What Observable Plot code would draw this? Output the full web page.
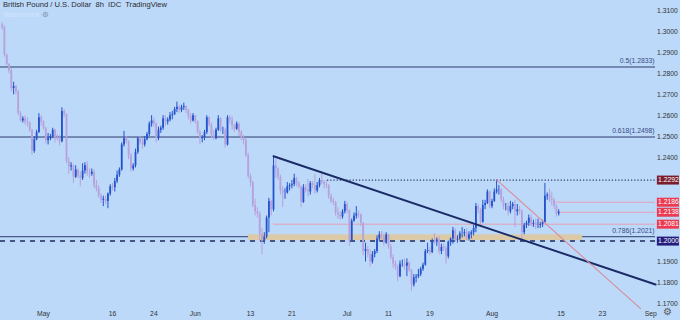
<!DOCTYPE html>
<html><head><meta charset="utf-8">
<script src="https://cdn.jsdelivr.net/npm/d3@7"></script>
<script src="https://cdn.jsdelivr.net/npm/@observablehq/plot@0.6"></script>
<style>
html,body{margin:0;padding:0;background:#bcd9fa;}
#wrap{position:relative;width:680px;height:320px;overflow:hidden;font-family:"Liberation Sans",Arial,sans-serif;}
#title{position:absolute;left:3px;top:0px;font-size:7.6px;color:#2c2c2c;white-space:pre;line-height:10px;}
#wm{position:absolute;left:3px;top:10px;font-size:7.6px;color:#d3e5fb;white-space:pre;line-height:10px;}
#wm span{color:#7f8ea8;}
#gear{position:absolute;left:663px;top:306px;font-size:10px;color:#555;line-height:12px;}
svg{display:block}
</style>
</head><body>
<div id="wrap">
<div id="chart"></div>
<div id="title">British Pound / U.S. Dollar  8h  IDC  TradingView</div>
<div id="wm">Watermark <span>⊛</span></div>
<div id="gear">⚙</div>
</div>
<script>
// 8h bars, Apr 22 – Aug 12 2022 (3 bars per trading day)
const firstOpen = 1.3035;
const closes = [
1.3020,1.2890,1.2845, 1.2815,1.2730,1.2740, 1.2715,1.2610,1.2575, 1.2585,1.2570,1.2565, 1.2530,1.2430,1.2485, 1.2520,1.2590,1.2570,
1.2540,1.2480,1.2490, 1.2500,1.2530,1.2495, 1.2490,1.2475,1.2620, 1.2605,1.2380,1.2355, 1.2360,1.2305,1.2340,
1.2310,1.2300,1.2335, 1.2360,1.2325,1.2320, 1.2330,1.2265,1.2250, 1.2215,1.2195,1.2200, 1.2190,1.2225,1.2260,
1.2255,1.2285,1.2315, 1.2340,1.2460,1.2490, 1.2475,1.2410,1.2345, 1.2360,1.2425,1.2490, 1.2470,1.2460,1.2485,
1.2510,1.2560,1.2575, 1.2560,1.2490,1.2530, 1.2540,1.2585,1.2570, 1.2580,1.2600,1.2605, 1.2630,1.2640,1.2625,
1.2640,1.2645,1.2625, 1.2595,1.2575,1.2600, 1.2570,1.2520,1.2490, 1.2495,1.2520,1.2590, 1.2555,1.2505,1.2490,
1.2530,1.2585,1.2530, 1.2530,1.2460,1.2590, 1.2580,1.2550,1.2535, 1.2560,1.2520,1.2490, 1.2480,1.2410,1.2310,
1.2280,1.2170,1.2140, 1.2130,1.2030,1.2000, 1.2020,1.2110,1.2190, 1.2150,1.2360,1.2345, 1.2305,1.2240,1.2230,
1.2230,1.2260,1.2265, 1.2270,1.2300,1.2275, 1.2260,1.2185,1.2255, 1.2245,1.2235,1.2275, 1.2265,1.2240,1.2265,
1.2290,1.2280,1.2270, 1.2265,1.2215,1.2190, 1.2185,1.2135,1.2125, 1.2115,1.2140,1.2175, 1.2145,1.2000,1.2095,
1.2120,1.2130,1.2125, 1.2085,1.1950,1.1960, 1.1935,1.1900,1.1935, 1.1950,1.2010,1.2030, 1.2020,1.1990,1.2030,
1.1970,1.1920,1.1890, 1.1875,1.1830,1.1890, 1.1890,1.1880,1.1895, 1.1860,1.1790,1.1825, 1.1830,1.1840,1.1865,
1.1885,1.1950,1.1955, 1.1945,1.2000,1.1995, 1.2005,1.1950,1.1970, 1.1965,1.1925,1.1995, 1.2010,1.2050,1.2005,
1.2010,1.2035,1.2035, 1.2040,1.2010,1.2030, 1.2040,1.2060,1.2165, 1.2150,1.2090,1.2170, 1.2180,1.2235,1.2165,
1.2190,1.2235,1.2245, 1.2245,1.2195,1.2165, 1.2165,1.2140,1.2165, 1.2175,1.2140,1.2150, 1.2140,1.2040,1.2075,
1.2085,1.2110,1.2080, 1.2085,1.2075,1.2075, 1.2080,1.2090,1.2215, 1.2220,1.2200,1.2195, 1.2165,1.2130,1.2138
];
const highs = [
1.3045,1.3030,1.2895, 1.2850,1.2825,1.2760, 1.2745,1.2720,1.2620, 1.2595,1.2600,1.2590, 1.2570,1.2535,1.2500, 1.2530,1.2610,1.2600,
1.2575,1.2545,1.2515, 1.2510,1.2540,1.2535, 1.2510,1.2505,1.2638, 1.2630,1.2610,1.2400, 1.2375,1.2365,1.2360,
1.2345,1.2330,1.2370, 1.2375,1.2380,1.2345, 1.2345,1.2340,1.2290, 1.2265,1.2225,1.2215, 1.2215,1.2230,1.2270,
1.2275,1.2300,1.2335, 1.2350,1.2470,1.2525, 1.2500,1.2480,1.2420, 1.2370,1.2440,1.2495, 1.2500,1.2490,1.2500,
1.2520,1.2570,1.2600, 1.2590,1.2565,1.2545, 1.2550,1.2600,1.2600, 1.2590,1.2615,1.2620, 1.2640,1.2665,1.2650,
1.2650,1.2660,1.2645, 1.2630,1.2610,1.2610, 1.2600,1.2575,1.2530, 1.2505,1.2530,1.2600, 1.2595,1.2565,1.2530,
1.2540,1.2600,1.2590, 1.2545,1.2540,1.2600, 1.2600,1.2595,1.2560, 1.2570,1.2565,1.2530, 1.2505,1.2490,1.2420,
1.2320,1.2285,1.2200, 1.2160,1.2140,1.2060, 1.2040,1.2120,1.2205, 1.2195,1.2406,1.2390, 1.2350,1.2315,1.2260,
1.2250,1.2280,1.2275, 1.2290,1.2320,1.2305, 1.2285,1.2265,1.2270, 1.2270,1.2295,1.2285, 1.2285,1.2320,1.2280,
1.2300,1.2330,1.2290, 1.2290,1.2270,1.2225, 1.2205,1.2190,1.2160, 1.2140,1.2150,1.2190, 1.2185,1.2150,1.2105,
1.2135,1.2165,1.2145, 1.2130,1.2090,1.1990, 1.1975,1.1960,1.1950, 1.1960,1.2025,1.2045, 1.2045,1.2035,1.2040,
1.2030,1.1985,1.1935, 1.1905,1.1885,1.1905, 1.1910,1.1915,1.1915, 1.1900,1.1865,1.1840, 1.1840,1.1865,1.1875,
1.1895,1.1960,1.1990, 1.1970,1.2010,1.2035, 1.2015,1.2020,1.1985, 1.1985,1.1975,1.2000, 1.2015,1.2065,1.2060,
1.2025,1.2045,1.2065, 1.2055,1.2060,1.2045, 1.2050,1.2075,1.2180, 1.2175,1.2155,1.2195, 1.2195,1.2245,1.2240,
1.2200,1.2250,1.2293, 1.2265,1.2250,1.2210, 1.2180,1.2180,1.2190, 1.2185,1.2195,1.2175, 1.2165,1.2150,1.2085,
1.2095,1.2125,1.2125, 1.2100,1.2105,1.2105, 1.2090,1.2100,1.2276, 1.2230,1.2250,1.2235, 1.2205,1.2175,1.2150
];
const lows = [
1.3010,1.2880,1.2838, 1.2800,1.2715,1.2700, 1.2700,1.2600,1.2570, 1.2565,1.2555,1.2545, 1.2520,1.2410,1.2420, 1.2480,1.2515,1.2550,
1.2530,1.2465,1.2460, 1.2480,1.2490,1.2470, 1.2480,1.2455,1.2470, 1.2590,1.2370,1.2320, 1.2335,1.2275,1.2300,
1.2300,1.2260,1.2290, 1.2320,1.2310,1.2300, 1.2310,1.2250,1.2235, 1.2205,1.2180,1.2165, 1.2175,1.2155,1.2215,
1.2240,1.2235,1.2275, 1.2305,1.2335,1.2450, 1.2465,1.2390,1.2330, 1.2335,1.2350,1.2415, 1.2460,1.2440,1.2450,
1.2480,1.2500,1.2545, 1.2545,1.2470,1.2480, 1.2515,1.2530,1.2550, 1.2555,1.2570,1.2580, 1.2600,1.2615,1.2610,
1.2615,1.2625,1.2610, 1.2580,1.2560,1.2570, 1.2560,1.2510,1.2460, 1.2470,1.2480,1.2510, 1.2545,1.2490,1.2480,
1.2485,1.2525,1.2520, 1.2510,1.2445,1.2455, 1.2560,1.2530,1.2520, 1.2530,1.2500,1.2480, 1.2460,1.2400,1.2300,
1.2260,1.2160,1.2120, 1.2110,1.2000,1.1934, 1.1985,1.2010,1.2040, 1.2120,1.2140,1.2300, 1.2290,1.2220,1.2160,
1.2200,1.2225,1.2240, 1.2250,1.2260,1.2260, 1.2250,1.2160,1.2180, 1.2230,1.2210,1.2220, 1.2250,1.2225,1.2230,
1.2255,1.2270,1.2250, 1.2250,1.2200,1.2180, 1.2170,1.2120,1.2105, 1.2100,1.2105,1.2130, 1.2130,1.1975,1.1995,
1.2090,1.2105,1.2110, 1.2070,1.1930,1.1900, 1.1920,1.1875,1.1890, 1.1920,1.1940,1.1995, 1.2005,1.1975,1.1985,
1.1960,1.1910,1.1870, 1.1860,1.1805,1.1825, 1.1875,1.1860,1.1830, 1.1850,1.1760,1.1780, 1.1800,1.1820,1.1830,
1.1855,1.1880,1.1940, 1.1930,1.1940,1.1985, 1.1975,1.1935,1.1935, 1.1950,1.1890,1.1915, 1.1975,1.1985,1.1995,
1.1990,1.2000,1.2015, 1.2020,1.2000,1.2000, 1.2010,1.2025,1.2040, 1.2130,1.2065,1.2085, 1.2150,1.2175,1.2155,
1.2155,1.2185,1.2225, 1.2220,1.2185,1.2150, 1.2145,1.2120,1.2130, 1.2150,1.2065,1.2120, 1.2125,1.2005,1.2030,
1.2060,1.2070,1.2070, 1.2065,1.2055,1.2060, 1.2060,1.2065,1.2085, 1.2195,1.2185,1.2170, 1.2150,1.2115,1.2120
];

// time axis: trading-day offsets (0 = Mon 2 May; data starts 6 trading days earlier)
const startOffset = 6, barsPerDay = 3;
const xTickDays   = [0, 10, 16, 22, 30, 36, 44, 50, 56, 65, 75, 81, 88];
const xTickLabels = ["May","16","24","Jun","13","21","Jul","11","19","Aug","15","23","Sep"];

// price axis (labels hidden behind the price tags are left out)
const yTicks = [1.31,1.30,1.29,1.28,1.27,1.26,1.25,1.24,1.19,1.18,1.17];

// annotations (bar index / price)
const paneStart = -0.7, paneEnd = 284.1, frameEnd = 294.96;
const fibLabels = ["0.5(1.2833)","0.618(1.2498)","0.786(1.2021)"];
const fibPrices = [1.2833, 1.2498, 1.2021];
const zoneBars = [107.1, 252.4], zonePrices = [1.2002, 1.2030];
const supportPrice = 1.2000;
const highLinePrice = 1.2292, highLineStart = 141.5;
const thinPrices = [1.2186, 1.2138, 1.2081], thinStarts = [240.6, 241.5, 118];
const trendA = {x: [118, paneEnd], y: [1.2406, 1.1792]};
const trendB = {x: [215, 277.6], y: [1.2293, 1.1677]};
const tagPrices = [1.2292, 1.2186, 1.2138, 1.2081, 1.2000];
const tagColors = ["#7a1e2e", "#ec3a50", "#ec3a50", "#ec3a50", "#241d7e"];
const tagCols = [284.9, 294.5];

const upColor = "#2453cc", downColor = "#b7a1da";
const bars = closes.map((c, i) => {
  const o = i ? closes[i - 1] : firstOpen;
  return {i, o, c, h: Math.max(highs[i], o, c), l: Math.min(lows[i], o, c), up: c >= o};
});
const fib = fibPrices.map((p, k) => ({p, label: fibLabels[k]}));
const thin = thinPrices.map((p, k) => ({p, x1: thinStarts[k]}));
const tags = tagPrices.map((p, k) => ({p, color: tagColors[k]}));
const toLine = t => t.x.map((x, k) => ({x, y: t.y[k]}));

const chart = Plot.plot({
  width: 680, height: 320,
  marginLeft: 0, marginRight: 0, marginTop: 0, marginBottom: 12,
  style: {background: "transparent", fontFamily: "Liberation Sans, Arial, sans-serif"},
  x: {domain: [paneStart, frameEnd], axis: null},
  y: {domain: [1.16775, 1.31512], axis: null},
  marks: [
    Plot.ruleY(fib, {y: "p", x1: paneStart, x2: paneEnd, stroke: "#2f3b6b", strokeWidth: 1}),
    Plot.rect([0], {x1: zoneBars[0], x2: zoneBars[1], y1: zonePrices[0], y2: zonePrices[1], fill: "#dccaa6"}),
    Plot.ruleY([supportPrice], {x1: paneStart, x2: paneEnd, stroke: "#1f2a5c", strokeWidth: 1.5, strokeDasharray: "5,5"}),
    Plot.ruleY([highLinePrice], {x1: highLineStart, x2: paneEnd, stroke: "#2a3562", strokeWidth: 1.2, strokeDasharray: "1.2,2"}),
    Plot.ruleY(thin, {y: "p", x1: "x1", x2: paneEnd, stroke: "#e6a0b4", strokeWidth: 1}),
    Plot.ruleX(bars, {x: "i", y1: "l", y2: "h", stroke: d => d.up ? upColor : downColor, strokeWidth: 1}),
    Plot.ruleX(bars, {x: "i", y1: "o", y2: "c", stroke: d => d.up ? upColor : downColor, strokeWidth: 1.8}),
    Plot.line(toLine(trendA), {x: "x", y: "y", stroke: "#1b2b66", strokeWidth: 2}),
    Plot.line(toLine(trendB), {x: "x", y: "y", stroke: "#d98c9c", strokeWidth: 1.1}),
    Plot.text(fib, {x: paneEnd, y: "p", text: "label", textAnchor: "end", dx: -1, dy: -6, fontSize: 6.8, fill: "#3a4a82"}),
    Plot.text(yTicks, {y: d => d, text: d => d.toFixed(4), frameAnchor: "right", dx: -13, textAnchor: "middle", fontSize: 6.8, fill: "#333"}),
    Plot.ruleY(tags, {y: "p", x1: tagCols[0], x2: tagCols[1], stroke: "color", strokeWidth: 9}),
    Plot.text(tags, {y: "p", text: d => d.p.toFixed(4), frameAnchor: "right", dx: -12, textAnchor: "middle", fontSize: 6.8, fill: "#fff"}),
    Plot.text(xTickDays, {x: d => (d + startOffset) * barsPerDay, text: (d, k) => xTickLabels[k], frameAnchor: "bottom", dy: 7, fontSize: 6.8, fill: "#333"})
  ]
});
document.getElementById("chart").appendChild(chart);
</script>
</body></html>
